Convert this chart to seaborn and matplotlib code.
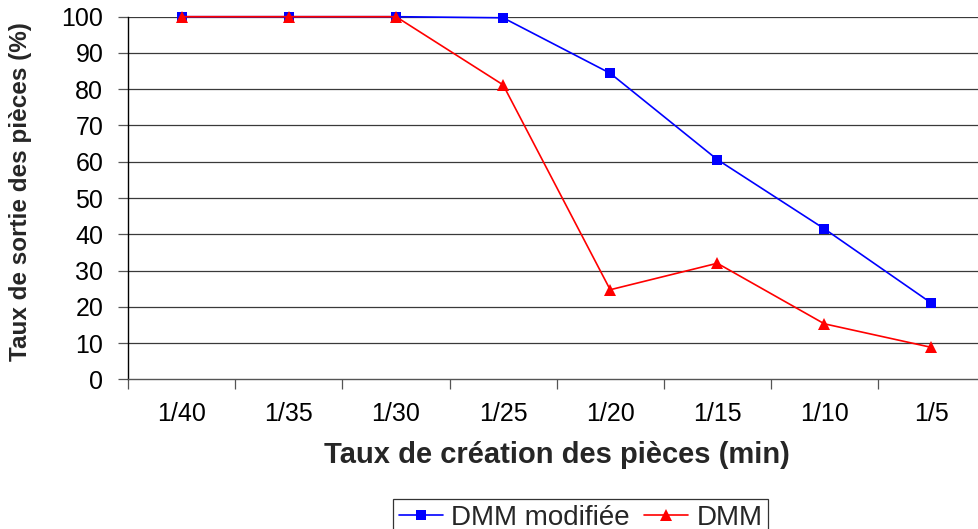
import matplotlib
matplotlib.use("Agg")
import matplotlib.pyplot as plt
import seaborn as sns
import pandas as pd
import numpy as np
from matplotlib.ticker import FixedLocator

# Taux de sortie des pièces selon le taux de création
categories = ["1/40", "1/35", "1/30", "1/25", "1/20", "1/15", "1/10", "1/5"]
dmm_modifiee = [100, 100, 100, 99.7, 84.4, 60.6, 41.5, 21.0]
dmm = [100, 100, 100, 81.2, 24.7, 32.0, 15.3, 8.8]
y_ticks = list(range(0, 101, 10))

sns.set_theme(style="white")
plt.rcParams["font.family"] = ["Liberation Sans", "DejaVu Sans"]

df = pd.DataFrame({"taux": categories, "DMM modifiée": dmm_modifiee, "DMM": dmm})

W, H = 979, 529
fig = plt.figure(figsize=(W / 100, H / 100), dpi=100)
fig.patch.set_facecolor("white")
ax_left, ax_right, ax_top, ax_bottom = 128.3, 985.0, 16.7, 379.3
ax = fig.add_axes([ax_left / W, 1 - ax_bottom / H,
                   (ax_right - ax_left) / W, (ax_bottom - ax_top) / H])
ax.set_facecolor("white")

for y in y_ticks[1:]:
    ax.axhline(y, color="#3a3a3a", lw=0.9, zorder=0)

sns.lineplot(data=df, x="taux", y="DMM modifiée", ax=ax, color="#0000ff",
             marker="s", markersize=7.5, markeredgewidth=0, lw=1.2,
             label="DMM modifiée", clip_on=False, legend=False)
sns.lineplot(data=df, x="taux", y="DMM", ax=ax, color="#ff0000",
             marker="^", markersize=9, markeredgewidth=0, lw=1.2,
             label="DMM", clip_on=False, legend=False)

ax.set_xlim(-0.5, len(categories) - 0.5)
ax.set_ylim(0, 100)
ax.set_yticks(y_ticks)
ax.set_yticklabels([str(v) for v in y_ticks], fontsize=18, color="black")
ax.set_xticks(range(len(categories)))
ax.set_xticklabels(categories, fontsize=18, color="black")
ax.xaxis.set_minor_locator(FixedLocator(np.arange(-0.5, len(categories), 1.0)))
ax.tick_params(axis="x", which="major", length=0, pad=16)
ax.tick_params(axis="x", which="minor", length=7, width=0.9, color="#555555", bottom=True)
ax.tick_params(axis="y", which="major", length=7, width=0.9, color="#555555", left=True, pad=11)

for s in ["top", "right"]:
    ax.spines[s].set_visible(False)
ax.spines["left"].set_color("black")
ax.spines["left"].set_linewidth(1.0)
ax.spines["bottom"].set_color("#555555")
ax.spines["bottom"].set_linewidth(1.0)

ax.set_xlabel("")
ax.set_ylabel("")
fig.text(557 / W, 1 - 455 / H, "Taux de création des pièces (min)",
         ha="center", va="center", fontsize=21, fontweight="bold")
fig.text(21 / W, 1 - 192 / H, "Taux de sortie des pièces (%)",
         ha="center", va="center", rotation=90, fontsize=17.5, fontweight="bold")

handles, labels = ax.get_legend_handles_labels()
leg = fig.legend(handles, labels, loc="upper left",
                 bbox_to_anchor=(393 / W, 1 - 499 / H), ncol=2, frameon=True,
                 fancybox=False, fontsize=20, handlelength=1.6,
                 handletextpad=0.3, columnspacing=0.5, borderpad=0.2,
                 borderaxespad=0)
leg.get_frame().set_edgecolor("black")
leg.get_frame().set_linewidth(0.9)

fig.savefig("out.png", dpi=100, facecolor="white")
